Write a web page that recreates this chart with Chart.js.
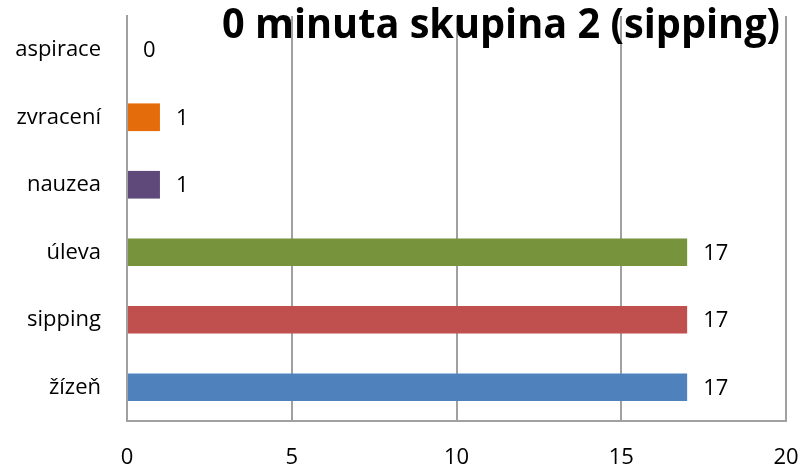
<!DOCTYPE html>
<html>
<head>
<meta charset="utf-8">
<script src="https://cdn.jsdelivr.net/npm/chart.js@4/dist/chart.umd.min.js"></script>
<style>
  html, body { margin: 0; padding: 0; background: #fff; }
  #wrap { width: 801px; height: 466px; position: relative; }
</style>
</head>
<body>
<div id="wrap"><canvas id="c" width="801" height="466"></canvas></div>
<script>
// Answers recorded at minute 0, group 2 (sipping)
const categories = ['aspirace', 'zvracení', 'nauzea', 'úleva', 'sipping', 'žízeň'];
const counts = [0, 1, 1, 17, 17, 17];
const barColors = ['#4F81BD', '#E46C0A', '#5F497A', '#77933C', '#C0504D', '#4F81BD'];
const xTicks = [0, 5, 10, 15, 20];
const titleText = '0 minuta skupina 2 (sipping)';

const FONT = '"Open Sans", "DejaVu Sans", sans-serif';

// Value written to the right of each bar
const valueLabels = {
  id: 'valueLabels',
  afterDatasetsDraw(chart) {
    const ctx = chart.ctx;
    const meta = chart.getDatasetMeta(0);
    ctx.save();
    ctx.font = '22px ' + FONT;
    ctx.fillStyle = '#000';
    ctx.textAlign = 'left';
    ctx.textBaseline = 'middle';
    meta.data.forEach((bar, i) => {
      ctx.fillText(String(counts[i]), bar.x + 16, bar.y + 1);
    });
    ctx.restore();
  }
};

// Bold title laid over the top right of the plot
const overlayTitle = {
  id: 'overlayTitle',
  afterDraw(chart) {
    const ctx = chart.ctx;
    ctx.save();
    ctx.font = 'bold 42px ' + FONT;
    const w = ctx.measureText(titleText).width;
    const targetW = 558;
    const sx = targetW / w;
    ctx.translate(501, 38);
    ctx.scale(sx, 1);
    ctx.fillStyle = '#000';
    ctx.textAlign = 'center';
    ctx.textBaseline = 'alphabetic';
    ctx.fillText(titleText, 0, 0);
    ctx.restore();
  }
};

// Fixed plot box: no extra room reserved for overhanging tick labels
function noOverhang(scale) {
  scale.paddingLeft = 0;
  scale.paddingRight = 0;
  scale.paddingTop = 0;
  scale.paddingBottom = 0;
}

new Chart(document.getElementById('c'), {
  type: 'bar',
  data: {
    labels: categories,
    datasets: [{
      data: counts,
      backgroundColor: barColors,
      borderWidth: 0,
      barPercentage: 0.41,
      categoryPercentage: 1
    }]
  },
  options: {
    indexAxis: 'y',
    responsive: false,
    animation: false,
    devicePixelRatio: 1,
    layout: { padding: { top: 16, right: 15, left: 0, bottom: 0 } },
    plugins: {
      legend: { display: false },
      title: { display: false },
      tooltip: { enabled: false }
    },
    scales: {
      x: {
        min: 0,
        max: 20,
        afterFit(scale) { scale.height = 45; noOverhang(scale); },
        afterBuildTicks(scale) { scale.ticks = xTicks.map(v => ({ value: v })); },
        grid: { color: '#a0a0a0', lineWidth: 2, drawTicks: false },
        border: { display: true, color: '#a0a0a0', width: 2 },
        ticks: { color: '#000', font: { family: FONT, size: 22 }, padding: 24, maxRotation: 0 }
      },
      y: {
        afterFit(scale) { scale.width = 127; noOverhang(scale); },
        grid: { display: false, drawTicks: false },
        border: { display: true, color: '#a0a0a0', width: 2 },
        ticks: { color: '#000', font: { family: FONT, size: 22 }, padding: 26 }
      }
    }
  },
  plugins: [valueLabels, overlayTitle]
});
</script>
</body>
</html>
